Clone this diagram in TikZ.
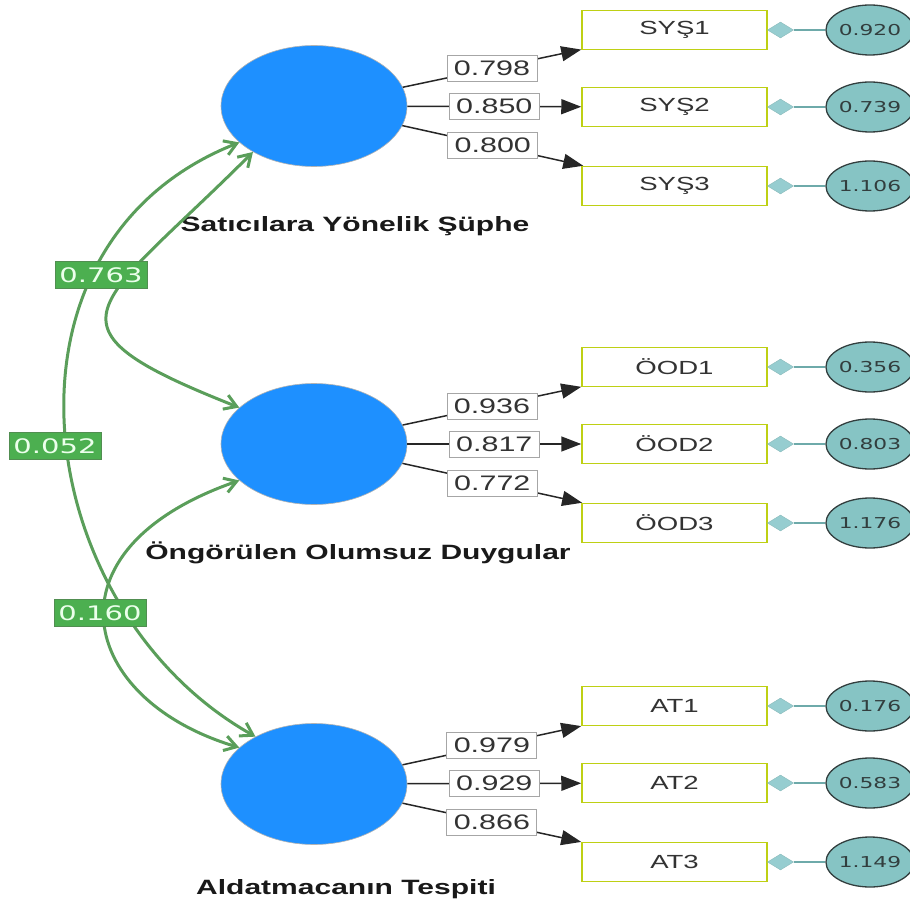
\documentclass[tikz,border=0pt]{standalone}
\usepackage{fontspec}
\setmainfont{Liberation Sans}[FakeStretch=1.45]
\newfontfamily\errfont{DejaVu Sans}[FakeStretch=1.45]
\usetikzlibrary{arrows.meta,shapes.geometric}
\definecolor{LatBlue}{RGB}{30,144,255}
\definecolor{CovGreen}{RGB}{90,158,90}
\definecolor{CovLabel}{RGB}{76,175,80}
\definecolor{ItemBorder}{RGB}{190,208,20}
\definecolor{ErrFill}{RGB}{134,196,196}
\definecolor{ErrDraw}{RGB}{50,62,62}
\definecolor{DiaFill}{RGB}{150,205,208}
\definecolor{ErrLine}{RGB}{110,170,170}

\begin{document}
\begin{tikzpicture}[x=1pt,y=-1pt,latent/.style={ellipse,fill=LatBlue,draw=gray!60,line width=0.6pt,minimum width=186pt,minimum height=121pt,inner sep=0pt},item/.style={rectangle,draw=ItemBorder,line width=1.5pt,fill=white,minimum width=185pt,minimum height=39pt,inner sep=0pt,font=\fontsize{19}{22}\selectfont,text=black!80},err/.style={ellipse,draw=ErrDraw,fill=ErrFill,line width=1.3pt,minimum width=74pt,minimum height=50pt,inner sep=0pt,font=\errfont\fontsize{15}{17}\selectfont,text=ErrDraw},dia/.style={diamond,draw=ErrLine!80,fill=DiaFill,minimum width=26pt,minimum height=16pt,inner sep=0pt,aspect=1.6},load/.style={rectangle,draw=black!35,fill=white,line width=0.8pt,minimum width=90pt,minimum height=26pt,inner sep=0pt,font=\fontsize{21}{24}\selectfont,text=black!80},cov/.style={rectangle,fill=CovLabel,draw=CovGreen!90!black,line width=0.6pt,minimum width=92pt,minimum height=27pt,inner sep=0pt,font=\errfont\fontsize{20}{22}\selectfont,text=green!8},arrow/.style={-{Triangle[length=20pt,width=15pt]},draw=black!85,line width=1.5pt},covarrow/.style={{Straight Barb[length=12pt,width=15pt]}-{Straight Barb[length=12pt,width=15pt]},draw=CovGreen,line width=3pt},lname/.style={font=\bfseries\fontsize{20.7}{24}\selectfont,text=black!90}]
\useasboundingbox (0,0) rectangle (910,909);
\node[latent](lat1) at (314,106){};
\node[latent](lat2) at (314,444){};
\node[latent](lat3) at (314,784){};
\node[lname](t1) at (355,226){Satıcılara Yönelik Şüphe};
\node[lname](t2) at (358,553){Öngörülen Olumsuz Duygular};
\node[lname](t3) at (346,889){Aldatmacanın Tespiti};
\foreach \n/\t/\y/\e in {sys1/SYŞ1/30/0.920,sys2/SYŞ2/107/0.739,sys3/SYŞ3/186/1.106,ood1/ÖOD1/367/0.356,ood2/ÖOD2/444/0.803,ood3/ÖOD3/523/1.176,at1/AT1/706/0.176,at2/AT2/783/0.583,at3/AT3/862/1.149}{
\node[item](\n) at (674.5,\y){\t};
\node[dia](d\n) at (780.5,\y){};
\node[err](e\n) at (870,\y){\e};
\draw[draw=ErrLine,line width=1.5pt](d\n)--(e\n);}
\foreach \l/\n/\v in {lat1/sys1/0.798,lat1/sys2/0.850,lat1/sys3/0.800,lat2/ood1/0.936,lat2/ood2/0.817,lat2/ood3/0.772,lat3/at1/0.979,lat3/at2/0.929,lat3/at3/0.866}{\draw[arrow](\l)--(\n)node[load,midway]{\v};}
\draw[covarrow](lat1.206) .. controls (-20,245) and (30,610) .. (lat3.141);
\draw[covarrow](lat1.217) .. controls (95,310) and (30,325) .. (lat2.154);
\draw[covarrow](lat2.206) .. controls (40,550) and (80,700) .. (lat3.154);
\node[cov](c12) at (101,275){0.763};
\node[cov](c13) at (55,446){0.052};
\node[cov](c23) at (100,613){0.160};
\end{tikzpicture}
\end{document}
